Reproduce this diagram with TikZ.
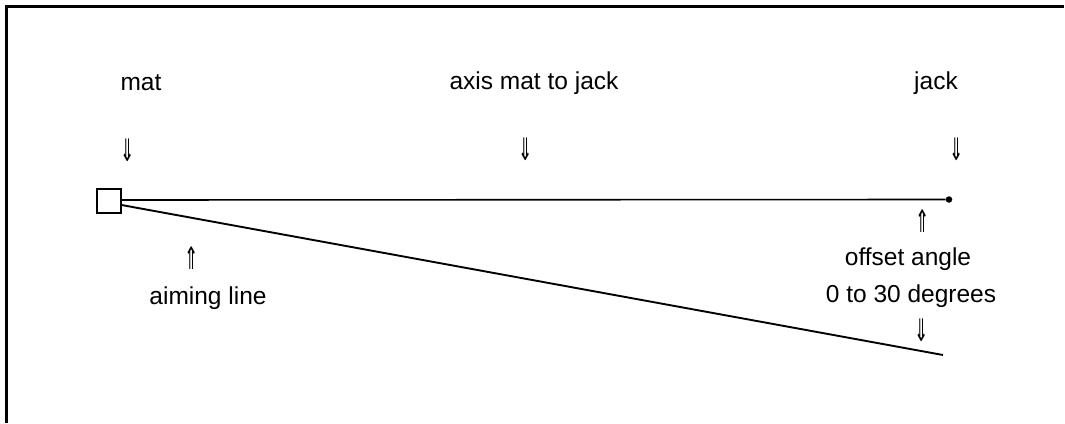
\documentclass[tikz,border=0pt]{standalone}
\usepackage{fontspec}
\setmainfont{Liberation Sans}
\newfontfamily\symfont{DejaVu Sans}
\newcommand{\dnarr}{\scalebox{0.55}[1]{\symfont ⇓}}
\newcommand{\uparr}{\scalebox{0.55}[1]{\symfont ⇑}}
\begin{document}
\begin{tikzpicture}[x=1pt,y=-1pt,
  lbl/.style={inner sep=0pt, font=\fontsize{24.5}{29}\selectfont},
  arr/.style={inner sep=0pt, font=\fontsize{31}{34}\selectfont},
  frame/.style={line width=3pt},
  axisline/.style={line width=1.6pt},
  aimline/.style={line width=1.9pt}]
\useasboundingbox (0,0) rectangle (1065,423);
% frame (partial)
\coordinate (ftr) at (1064,6.5);
\coordinate (fbl) at (6.5,423);
\draw[frame] (ftr) -- (6.5,6.5) -- (fbl);
% mat square
\node[draw, line width=2pt, minimum size=24pt, inner sep=0pt] (mat) at (108.5,201) {};
% jack dot
\node[circle, fill, inner sep=0pt, minimum size=6.5pt] (jack) at (949,199.5) {};
\coordinate (aimend) at (943,355);
\draw[axisline] (mat.east |- 0,200) -- (jack.west);
\draw[aimline] ([yshift=-4pt]mat.east) -- (aimend);
% labels
\node[lbl] (tmat) at (141,83) {mat};
\node[lbl] (taxis) at (534,83) {axis mat to jack};
\node[lbl] (tjack) at (936,83) {jack};
\node[arr] (a1) at (128,150) {\dnarr};
\node[arr] (a2) at (526,149) {\dnarr};
\node[arr] (a3) at (957,149) {\dnarr};
\node[arr] (a4) at (923,221) {\uparr};
\node[lbl] (toff) at (908,259) {offset angle};
\node[lbl] (tdeg) at (911,296) {0 to 30 degrees};
\node[arr] (a5) at (922,330) {\dnarr};
\node[arr] (a6) at (192,258) {\uparr};
\node[lbl] (taim) at (208,298) {aiming line};
\end{tikzpicture}
\end{document}
